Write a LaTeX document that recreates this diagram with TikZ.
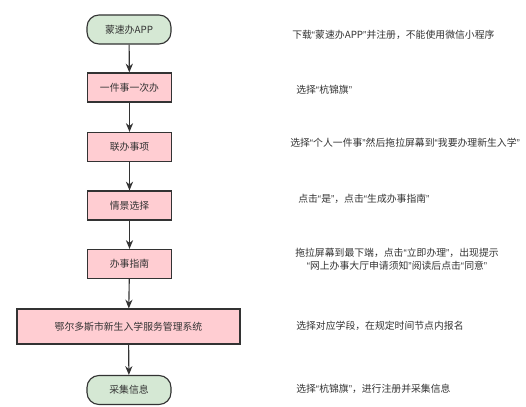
\documentclass[tikz,border=0pt]{standalone}
\usepackage{fontspec}
\setmainfont{Noto Sans CJK SC}
\newfontfamily\quotefont{Liberation Sans}
\newcommand{\qt}[1]{{\quotefont “}#1{\quotefont ”}}
\usetikzlibrary{arrows.meta, positioning}
\definecolor{startgreen}{HTML}{D5E8D4}
\definecolor{steppink}{HTML}{FFCDD2}
\definecolor{linegray}{HTML}{333333}

\begin{document}
\begin{tikzpicture}[
    x=0.025cm, y=-0.025cm,
    terminal/.style={rectangle, rounded corners=0.3cm, minimum width=2.1cm, minimum height=0.725cm, text centered, draw=linegray, line width=0.8pt, fill=startgreen, font=\fontsize{7}{9}\selectfont, text=linegray},
    process/.style={rectangle, minimum width=2.1cm, minimum height=0.725cm, text centered, draw=linegray, line width=0.8pt, fill=steppink, font=\fontsize{7}{9}\selectfont, text=linegray},
    note/.style={anchor=west, font=\fontsize{7}{9}\selectfont, text=linegray, inner sep=0pt},
    flow/.style={-{Stealth[length=2.2mm, width=1.8mm]}, line width=0.8pt, draw=linegray}
]
    \useasboundingbox (0,0) rectangle (526,407);

    % Flow: steps
    \node[terminal] (app) at (129, 29.5) {蒙速办APP};
    \node[process] (once) at (129.5, 87.5) {一件事一次办};
    \node[process] (joint) at (129.5, 147) {联办事项};
    \node[process] (scene) at (129.5, 205.5) {情景选择};
    \node[process] (guide) at (129.5, 264) {办事指南};
    \node[process, minimum width=5.575cm, minimum height=0.875cm] (system) at (128.5, 326.5) {鄂尔多斯市新生入学服务管理系统};
    \node[terminal] (collect) at (129, 390) {采集信息};

    \draw[flow] (app) -- (once);
    \draw[flow] (once) -- (joint);
    \draw[flow] (joint) -- (scene);
    \draw[flow] (scene) -- (guide);
    \draw[flow] (guide) -- (system);
    \draw[flow] (system) -- (collect);

    % Notes on the right
    \node[note] (appnote) at (292, 35) {下载\qt{蒙速办APP}并注册，不能使用微信小程序};
    \node[note] (oncenote) at (296, 90) {选择\qt{杭锦旗}};
    \node[note] (jointnote) at (290, 143) {选择\qt{个人一件事}然后拖拉屏幕到\qt{我要办理新生入学}};
    \node[note] (scenenote) at (298, 199) {点击\qt{是}，点击\qt{生成办事指南}};
    \node[note, anchor=center, align=center] (guidenote) at (397, 259.5) {拖拉屏幕到最下端，点击\qt{立即办理}，出现提示\\\qt{网上办事大厅申请须知}阅读后点击\qt{同意}};
    \node[note] (systemnote) at (296, 326) {选择对应学段，在规定时间节点内报名};
    \node[note] (collectnote) at (296, 389) {选择\qt{杭锦旗}，进行注册并采集信息};

\end{tikzpicture}
\end{document}
